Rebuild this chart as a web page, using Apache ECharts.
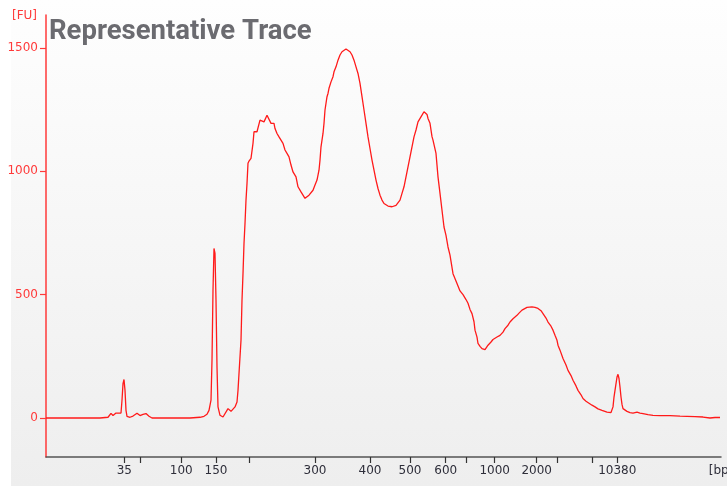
<!DOCTYPE html>
<html>
<head>
<meta charset="utf-8">
<script src="https://cdn.jsdelivr.net/npm/echarts@6/dist/echarts.min.js"></script>
<style>
html,body{margin:0;padding:0;background:#ffffff;}
#c{width:727px;height:486px;}
</style>
</head>
<body>
<div id="c"></div>
<script>
// Migration time (arbitrary units) and fluorescence (FU)
const traceTime = [0.0,1.4,3.4,5.4,6.2,6.5,6.7,7.0,7.2,7.5,7.6,7.7,7.8,7.9,8.0,8.1,8.4,8.7,9.1,9.4,9.7,10.0,10.3,10.6,12.4,14.4,15.4,15.8,16.1,16.3,16.5,16.6,16.7,16.8,16.9,17.0,17.1,17.2,17.4,17.7,17.9,18.2,18.3,18.5,18.6,18.9,19.1,19.2,19.3,19.5,19.6,19.7,19.8,19.9,20.0,20.1,20.2,20.3,20.5,20.6,20.7,20.8,21.0,21.1,21.3,21.4,21.6,21.8,21.9,22.1,22.2,22.3,22.5,22.6,22.8,22.9,23.1,23.3,23.5,23.7,23.9,24.1,24.3,24.5,24.7,25.0,25.2,25.5,25.7,25.9,26.1,26.3,26.5,26.7,26.9,27.1,27.3,27.4,27.5,27.7,27.8,27.9,28.1,28.2,28.3,28.5,28.7,28.8,29.0,29.2,29.4,29.6,29.8,30.0,30.2,30.4,30.6,30.8,31.0,31.2,31.4,31.6,31.8,32.0,32.2,32.4,32.6,32.8,33.0,33.2,33.4,33.6,33.8,34.0,34.2,34.4,34.6,34.8,35.0,35.2,35.4,35.6,35.8,36.0,36.2,36.4,36.6,36.8,37.0,37.2,37.4,37.6,37.8,37.9,38.1,38.2,38.4,38.6,38.7,39.0,39.2,39.4,39.6,39.8,40.0,40.2,40.4,40.7,41.1,41.4,41.7,42.0,42.2,42.4,42.6,42.8,42.9,43.1,43.2,43.4,43.6,43.7,43.9,44.1,44.2,44.5,44.7,45.1,45.4,45.7,45.9,46.2,46.4,46.7,47.1,47.3,47.6,47.8,48.1,48.3,48.6,48.9,49.2,49.5,49.7,50.0,50.2,50.5,50.7,50.9,51.1,51.2,51.4,51.7,52.0,52.2,52.5,52.7,53.0,53.2,53.5,53.7,54.0,54.2,54.6,54.9,55.2,55.6,55.8,56.1,56.5,56.7,56.8,56.9,57.1,57.2,57.3,57.4,57.5,57.6,57.7,58.1,58.4,58.7,59.1,59.4,59.7,60.2,60.7,61.4,62.4,63.4,64.1,64.9,65.7,66.4,66.9,67.4];
const traceFU = [0,0,0,0,3,19,10,20,15,20,72,139,156,112,31,7,3,8,19,10,15,18,7,0,0,0,3,7,15,31,72,234,518,687,667,477,207,45,11,4,11,38,42,27,20,45,65,112,180,315,477,585,707,788,883,950,1032,1041,1052,1058,1113,1160,1167,1160,1167,1207,1214,1200,1207,1227,1234,1220,1194,1200,1194,1173,1153,1139,1146,1113,1086,1072,1058,1025,997,977,937,916,903,890,896,903,900,923,944,964,1004,1045,1099,1153,1194,1248,1302,1315,1336,1362,1383,1403,1423,1450,1471,1484,1491,1495,1498,1484,1471,1450,1423,1396,1356,1302,1248,1194,1139,1092,1045,1004,964,930,903,883,869,862,859,856,856,849,862,865,883,910,937,977,1018,1058,1099,1139,1167,1200,1207,1227,1241,1241,1230,1214,1194,1140,1126,1072,977,910,842,774,740,693,660,585,545,515,500,480,465,440,423,390,356,328,302,290,281,277,277,285,295,308,318,328,335,348,362,376,389,402,416,425,437,443,448,447,450,448,444,435,423,405,389,372,356,335,315,295,275,241,215,193,172,153,130,112,94,79,68,61,52,45,37,31,27,24,22,45,85,112,166,177,160,125,85,55,38,27,22,20,24,20,18,14,11,10,10,8,7,6,4,0,2,2];

// Ladder: fragment sizes (bp) and their migration times
const ladderBp   = [35, 50, 100, 150, 200, 300, 400, 500, 600, 700, 1000, 2000, 3000, 7000, 10380];
const ladderTime = [7.83, 9.4, 13.53, 17.0, 20.33, 26.9, 32.4, 36.4, 39.97, 42.03, 44.87, 49.07, 51.17, 54.67, 57.13];
const labeledBp  = [35, 100, 150, 300, 400, 500, 600, 1000, 2000, 10380];
const fuTicks    = [0, 500, 1000, 1500];

const xMin = 0, xMax = 67.5, yMin = -158, yMax = 1633;
const title = 'Representative Trace';

const chart = echarts.init(document.getElementById('c'), null, {renderer:'canvas'});
const labelTimes = ladderTime.filter((t, i) => labeledBp.indexOf(ladderBp[i]) >= 0);

chart.setOption({
  animation: false,
  backgroundColor: '#ffffff',
  graphic: [{
    type: 'rect', z: -10, silent: true,
    shape: {x: 11, y: 0, width: 716, height: 486},
    style: {fill: new echarts.graphic.LinearGradient(0,0,0,1,[{offset:0,color:'#fefefe'},{offset:1,color:'#eeeeee'}])}
  }, {
    type: 'text', left: 49, top: 18, z: 10,
    style: {text: title, fill: '#6b6b70', font: 'bold 27.5px Roboto'}
  }],
  grid: {left: 46, right: 6, top: 15, bottom: 29, containLabel: false, outerBoundsMode: 'none'},
  xAxis: {
    type: 'value', min: xMin, max: xMax,
    axisLine: {show: true, onZero: false, lineStyle: {color: '#555555', width: 1.5}},
    axisTick: {show: true, customValues: ladderTime, length: 6, lineStyle: {color: '#333333', width: 1.2}},
    axisLabel: {
      customValues: labelTimes.concat([xMax]),
      margin: 8, color: '#2e2e3a', fontSize: 12, fontFamily: '"DejaVu Sans"',
      formatter: function (v) {
        if (Math.abs(v - xMax) < 1e-6) return '[bp]';
        const i = ladderTime.findIndex(t => Math.abs(t - v) < 1e-6);
        return i >= 0 ? String(ladderBp[i]) : '';
      }
    },
    splitLine: {show: false}
  },
  yAxis: {
    type: 'value', min: yMin, max: yMax,
    name: '[FU]', nameLocation: 'end', nameGap: -1,
    nameTextStyle: {color: '#ff3a3a', fontSize: 12, fontFamily: '"DejaVu Sans"', align: 'right', verticalAlign: 'middle', padding: [0, 9, 0, 0]},
    axisLine: {show: true, onZero: false, lineStyle: {color: '#ff3a3a', width: 1.5}},
    axisTick: {show: true, customValues: fuTicks, length: 6, lineStyle: {color: '#ff3a3a', width: 1.2}},
    axisLabel: {customValues: fuTicks, margin: 8, color: '#ff3a3a', fontSize: 12, fontFamily: '"DejaVu Sans"',
      formatter: function (v) { return String(v); }},
    splitLine: {show: false}
  },
  series: [{
    type: 'line',
    data: traceTime.map((t, i) => [t, traceFU[i]]),
    showSymbol: false,
    lineStyle: {color: '#ff1a1a', width: 1.3},
    smooth: false
  }]
});
</script>
</body>
</html>
